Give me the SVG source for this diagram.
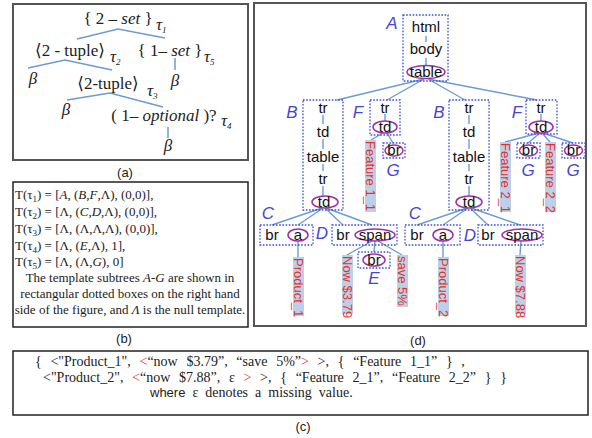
<svg xmlns="http://www.w3.org/2000/svg" width="592" height="438" viewBox="0 0 592 438">
<style>
.pl{fill:#fff;stroke:#555;stroke-width:2}
.pb{fill:#fff;stroke:#222;stroke-width:1.5}
.cap{font-family:"Liberation Sans",Arial,sans-serif;font-size:13px;fill:#222;text-anchor:middle}
.m{font-family:"Liberation Serif","DejaVu Serif",serif;font-size:17px;fill:#222}
.mid{text-anchor:middle}
.it{font-style:italic}
.tl{stroke:#6d9bd1;stroke-width:1.5;fill:none}
.ser{font-family:"Liberation Serif",serif;font-size:13px;fill:#222}
.sc{font-family:"Liberation Serif",serif;font-size:14px;fill:#222;word-spacing:5.2px}
.sc3{font-family:"Liberation Serif",serif;font-size:14px;fill:#222;word-spacing:3.5px}
.sans{font-family:"Liberation Sans",Arial,sans-serif;font-size:13px}
.n{font-family:"Liberation Sans",Arial,sans-serif;font-size:15px;fill:#111;text-anchor:middle}
.box{fill:none;stroke:#3b4fd4;stroke-width:1.3;stroke-dasharray:1.6 1.6}
.el{fill:#fff;stroke:#a1309f;stroke-width:1.5}
.lab{font-family:"Liberation Sans",Arial,sans-serif;font-style:italic;font-size:17px;fill:#4646d6;text-anchor:middle}
.red{font-family:"Liberation Sans",Arial,sans-serif;font-size:13px;fill:#e4322b}
.hl{fill:#bcd0ea}
.cl{stroke:#6d9bd1;stroke-width:1.4;fill:none}
.r{fill:#e4322b}
</style>

<!-- panel frames -->
<rect class="pl" x="13" y="4" width="235" height="156"/>
<rect class="pb" x="13" y="182" width="235" height="145"/>
<rect class="pl" x="254" y="3" width="332" height="323"/>
<rect class="pb" x="13" y="351" width="575" height="64"/>

<!-- panel (a) -->
<g id="panel-a">
  <g class="tl">
    <polyline points="77,39 118,29 165,38"/>
    <polyline points="28,68 65,60 112,70"/>
    <line x1="175" y1="58" x2="175" y2="70"/>
    <polyline points="67,100 110,93 163,107"/>
    <line x1="168" y1="127" x2="168" y2="138"/>
  </g>
  <text class="m mid" x="118" y="24">{ 2 – <tspan class="it">set</tspan> }</text>
  <text class="m it" x="156" y="30" font-size="13">τ<tspan font-size="9" dy="3">1</tspan></text>
  <text class="m mid" x="70" y="56">⟨2 - tuple⟩</text>
  <text class="m it" x="110" y="62" font-size="13">τ<tspan font-size="9" dy="3">2</tspan></text>
  <text class="m mid" x="170" y="56">{ 1– <tspan class="it">set</tspan> }</text>
  <text class="m it" x="204" y="62" font-size="13">τ<tspan font-size="9" dy="3">5</tspan></text>
  <text class="m mid it" x="33" y="84">β</text>
  <text class="m mid" x="108" y="89">⟨2-tuple⟩</text>
  <text class="m it" x="147" y="96" font-size="13">τ<tspan font-size="9" dy="3">3</tspan></text>
  <text class="m mid it" x="175" y="86">β</text>
  <text class="m mid it" x="66" y="115">β</text>
  <text class="m mid" x="164" y="121">( 1– <tspan class="it">optional</tspan> )?</text>
  <text class="m it" x="221" y="126" font-size="13">τ<tspan font-size="9" dy="3">4</tspan></text>
  <text class="m mid it" x="168" y="151">β</text>
</g>
<text class="cap" x="125" y="177">(a)</text>

<!-- panel (b) -->
<g id="panel-b" class="ser">
  <text x="15" y="199">T(τ<tspan font-size="9" dy="3">1</tspan><tspan dy="-3">) = [</tspan><tspan class="it">A</tspan>, (<tspan class="it">B</tspan>,<tspan class="it">F</tspan>,Λ), (0,0)],</text>
  <text x="15" y="216">T(τ<tspan font-size="9" dy="3">2</tspan><tspan dy="-3">) = [Λ, (</tspan><tspan class="it">C</tspan>,<tspan class="it">D</tspan>,Λ), (0,0)],</text>
  <text x="15" y="233">T(τ<tspan font-size="9" dy="3">3</tspan><tspan dy="-3">) = [Λ, (Λ,Λ,Λ), (0,0)],</tspan></text>
  <text x="15" y="250">T(τ<tspan font-size="9" dy="3">4</tspan><tspan dy="-3">) = [Λ, (</tspan><tspan class="it">E</tspan>,Λ), 1],</text>
  <text x="15" y="266">T(τ<tspan font-size="9" dy="3">5</tspan><tspan dy="-3">) = [Λ, (Λ,</tspan><tspan class="it">G</tspan>), 0]</text>
  <text x="130" y="282" text-anchor="middle">The template subtrees <tspan class="it">A-G</tspan> are shown in</text>
  <text x="130" y="298" text-anchor="middle">rectangular dotted boxes on the right hand</text>
  <text x="130" y="314" text-anchor="middle">side of the figure, and <tspan class="it">Λ</tspan> is the null template.</text>
</g>
<text class="cap" x="124" y="343">(b)</text>

<!-- panel (d) connectors -->
<g id="connectors" class="cl">
  <line x1="426" y1="36" x2="426" y2="42"/>
  <line x1="426" y1="58" x2="426" y2="66"/>
  <line x1="424" y1="79" x2="337" y2="100"/>
  <line x1="424" y1="79" x2="387" y2="100"/>
  <line x1="428" y1="79" x2="465" y2="100"/>
  <line x1="428" y1="79" x2="537" y2="100"/>
  <line x1="323" y1="115" x2="323" y2="124"/>
  <line x1="323" y1="139" x2="323" y2="149"/>
  <line x1="323" y1="164" x2="323" y2="171"/>
  <line x1="323" y1="186" x2="323" y2="196"/>
  <line x1="469" y1="115" x2="469" y2="124"/>
  <line x1="469" y1="139" x2="469" y2="149"/>
  <line x1="469" y1="164" x2="469" y2="171"/>
  <line x1="469" y1="186" x2="469" y2="196"/>
  <line x1="385" y1="114" x2="385" y2="121"/>
  <line x1="383" y1="133" x2="371" y2="140"/>
  <line x1="387" y1="133" x2="393" y2="143"/>
  <line x1="541" y1="114" x2="541" y2="121"/>
  <line x1="539" y1="133" x2="505" y2="142"/>
  <line x1="540" y1="133" x2="528" y2="143"/>
  <line x1="542" y1="133" x2="550" y2="142"/>
  <line x1="543" y1="133" x2="573" y2="143"/>
  <line x1="322" y1="208" x2="272" y2="225"/>
  <line x1="323" y1="208" x2="298" y2="225"/>
  <line x1="325" y1="208" x2="343" y2="225"/>
  <line x1="326" y1="208" x2="372" y2="225"/>
  <line x1="298" y1="241" x2="298" y2="257"/>
  <line x1="372" y1="241" x2="347" y2="255"/>
  <line x1="375" y1="241" x2="374" y2="252"/>
  <line x1="378" y1="241" x2="402" y2="255"/>
  <line x1="467" y1="208" x2="417" y2="225"/>
  <line x1="468" y1="208" x2="443" y2="225"/>
  <line x1="470" y1="208" x2="488" y2="225"/>
  <line x1="471" y1="208" x2="520" y2="225"/>
  <line x1="443" y1="241" x2="443" y2="257"/>
  <line x1="521" y1="241" x2="520" y2="255"/>
</g>

<g id="node-A">
  <rect class="box" x="403" y="15" width="45" height="66"/>
  <text class="n" x="426" y="32">html</text>
  <text class="n" x="426" y="54">body</text>
  <ellipse class="el" cx="426" cy="72" rx="19" ry="6.5"/>
  <text class="n" x="426" y="77" font-size="14">table</text>
  <text class="lab" x="392" y="29">A</text>
</g>

<g id="node-B1">
  <rect class="box" x="303" y="100" width="40" height="110"/>
  <text class="n" x="323" y="113">tr</text>
  <text class="n" x="323" y="137">td</text>
  <text class="n" x="323" y="162">table</text>
  <text class="n" x="323" y="184">tr</text>
  <ellipse class="el" cx="325" cy="202" rx="13" ry="6"/>
  <text class="n" x="324" y="207" font-size="14">td</text>
  <text class="lab" x="292" y="118">B</text>
</g>

<g id="node-F1">
  <rect class="box" x="370" y="100" width="30" height="35"/>
  <text class="n" x="385" y="113">tr</text>
  <ellipse class="el" cx="385" cy="127" rx="12" ry="6"/>
  <text class="n" x="385" y="132" font-size="14">td</text>
  <text class="lab" x="358" y="118">F</text>
</g>

<g id="node-G1">
  <rect class="box" x="383" y="143" width="22" height="15"/>
  <ellipse class="el" cx="394" cy="150.5" rx="9" ry="5.5"/>
  <text class="n" x="394" y="155" font-size="14">br</text>
  <text class="lab" x="393" y="176">G</text>
</g>

<g id="val-feature11">
  <rect class="hl" x="365" y="140" width="11" height="72"/>
  <text class="red" transform="translate(366,141) rotate(90)">Feature 1_1</text>
</g>

<g id="node-B2">
  <rect class="box" x="449" y="100" width="40" height="110"/>
  <text class="n" x="469" y="113">tr</text>
  <text class="n" x="469" y="137">td</text>
  <text class="n" x="469" y="162">table</text>
  <text class="n" x="469" y="184">tr</text>
  <ellipse class="el" cx="469" cy="202" rx="13" ry="6"/>
  <text class="n" x="469" y="207" font-size="14">td</text>
  <text class="lab" x="439" y="118">B</text>
</g>

<g id="node-F2">
  <rect class="box" x="526" y="100" width="31" height="34"/>
  <text class="n" x="541" y="113">tr</text>
  <ellipse class="el" cx="541" cy="127" rx="12" ry="6"/>
  <text class="n" x="541" y="132" font-size="14">td</text>
  <text class="lab" x="517" y="118">F</text>
</g>

<g id="node-G2">
  <rect class="box" x="517" y="143" width="23" height="15"/>
  <ellipse class="el" cx="528.5" cy="150.5" rx="9" ry="5.5"/>
  <text class="n" x="528.5" y="155" font-size="14">br</text>
  <text class="lab" x="528" y="176">G</text>
</g>

<g id="node-G3">
  <rect class="box" x="562" y="143" width="23" height="15"/>
  <ellipse class="el" cx="573.5" cy="150.5" rx="9" ry="5.5"/>
  <text class="n" x="573.5" y="155" font-size="14">br</text>
  <text class="lab" x="573" y="176">G</text>
</g>

<g id="val-feature21">
  <rect class="hl" x="500" y="142" width="11" height="70"/>
  <text class="red" transform="translate(501,143) rotate(90)">Feature 2_1</text>
</g>
<g id="val-feature22">
  <rect class="hl" x="545" y="142" width="11" height="70"/>
  <text class="red" transform="translate(546,143) rotate(90)">Feature 2_2</text>
</g>

<g id="node-C1">
  <rect class="box" x="260" y="225" width="53" height="20"/>
  <text class="n" x="272" y="240">br</text>
  <ellipse class="el" cx="298" cy="235" rx="10" ry="6"/>
  <text class="n" x="298" y="240" font-size="14">a</text>
  <text class="lab" x="268" y="219">C</text>
</g>

<g id="node-D1">
  <rect class="box" x="332" y="225" width="65" height="20"/>
  <text class="n" x="343" y="240">br</text>
  <ellipse class="el" cx="375" cy="235" rx="20" ry="6"/>
  <text class="n" x="375" y="240" font-size="14">span</text>
  <text class="lab" x="322" y="239">D</text>
</g>

<g id="node-E">
  <rect class="box" x="358" y="252" width="32" height="16"/>
  <ellipse class="el" cx="374" cy="260" rx="11" ry="6"/>
  <text class="n" x="374" y="265" font-size="14">br</text>
  <text class="lab" x="374" y="284">E</text>
</g>

<g id="val-product1">
  <rect class="hl" x="293" y="257" width="11" height="59"/>
  <text class="red" transform="translate(294,258) rotate(90)">Product_1</text>
</g>
<g id="val-now379">
  <rect class="hl" x="342" y="255" width="11" height="59"/>
  <text class="red" font-size="12.5" transform="translate(343,256) rotate(90)">Now $3.79</text>
</g>
<g id="val-save5">
  <rect class="hl" x="397" y="255" width="11" height="52"/>
  <text class="red" transform="translate(398,256) rotate(90)">save 5%</text>
</g>

<g id="node-C2">
  <rect class="box" x="405" y="225" width="55" height="20"/>
  <text class="n" x="417" y="240">br</text>
  <ellipse class="el" cx="443" cy="235" rx="10" ry="6"/>
  <text class="n" x="443" y="240" font-size="14">a</text>
  <text class="lab" x="415" y="219">C</text>
</g>

<g id="node-D2">
  <rect class="box" x="478" y="225" width="65" height="20"/>
  <text class="n" x="488" y="240">br</text>
  <ellipse class="el" cx="522" cy="235" rx="20" ry="6"/>
  <text class="n" x="522" y="240" font-size="14">span</text>
  <text class="lab" x="470" y="241">D</text>
</g>

<g id="val-product2">
  <rect class="hl" x="438" y="257" width="11" height="59"/>
  <text class="red" transform="translate(439,258) rotate(90)">Product_2</text>
</g>
<g id="val-now788">
  <rect class="hl" x="515" y="255" width="11" height="59"/>
  <text class="red" font-size="12.5" transform="translate(516,256) rotate(90)">Now $7.88</text>
</g>

<text class="cap" x="418" y="345">(d)</text>

<!-- panel (c) -->
<g id="panel-c">
  <text class="sc" x="35" y="366">{  &lt;"Product_1", <tspan class="r">&lt;</tspan>“now $3.79”, “save 5%”<tspan class="r">&gt;</tspan> &gt;, { “Feature 1_1” } ,</text>
  <text class="sc" x="43" y="382">&lt;"Product_2", <tspan class="r">&lt;</tspan>“now $7.88”, ε <tspan class="r">&gt;</tspan> &gt;, { “Feature 2_1”, “Feature 2_2” }  }</text>
  <text class="sc3" x="150" y="397"><tspan class="sans">where</tspan> ε denotes a missing value.</text>
</g>
<text class="cap" x="303" y="431">(c)</text>
</svg>
